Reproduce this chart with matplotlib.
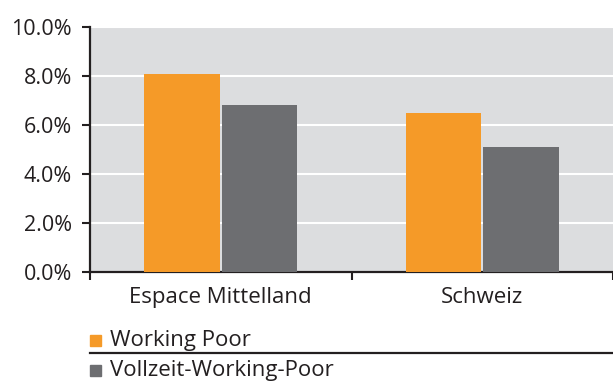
import matplotlib
matplotlib.use("Agg")
import matplotlib.pyplot as plt
from matplotlib.patches import Rectangle
from matplotlib.lines import Line2D
import numpy as np

categories = ["Espace Mittelland", "Schweiz"]
series_names = ["Working Poor", "Vollzeit-Working-Poor"]
working_poor = [8.1, 6.5]
vollzeit_wp = [6.8, 5.1]
yticks = [0, 2, 4, 6, 8, 10]
ytick_labels = ["0.0%", "2.0%", "4.0%", "6.0%", "8.0%", "10.0%"]

colors = ["#F59A28", "#6D6E71"]
dark = "#231F20"

plt.rcParams['font.family'] = ['Open Sans', 'DejaVu Sans']

W, H = 613, 381
fig = plt.figure(figsize=(W / 100, H / 100), dpi=100)
ax = fig.add_axes([90 / W, (H - 272) / H, 523 / W, 245 / H])
ax.set_facecolor("#DCDDDF")

x = np.arange(len(categories))
bw = 0.29
ax.bar(x - bw / 2 - 0.003, working_poor, width=bw, color=colors[0], zorder=3)
ax.bar(x + bw / 2 + 0.003, vollzeit_wp, width=bw, color=colors[1], zorder=3)

ax.set_xlim(-0.5, 1.5)
ax.set_ylim(0, 10)
ax.set_yticks(yticks)
ax.set_yticklabels(ytick_labels, fontsize=15.5, color=dark)
ax.yaxis.grid(True, color="white", linewidth=1.5, zorder=1)
ax.set_axisbelow(True)

ax.set_xticks([-0.5, 0.5, 1.5])
ax.set_xticklabels([])
ax.set_xticks(x, minor=True)
ax.set_xticklabels(categories, minor=True, fontsize=16, color=dark)
ax.tick_params(axis='x', which='minor', length=0, pad=11)
ax.tick_params(axis='x', which='major', length=6, width=1.5, color=dark, direction='out')
ax.tick_params(axis='y', length=6, width=1.5, color=dark, direction='out', pad=7)

for s in ["top", "right"]:
    ax.spines[s].set_visible(False)
for s in ["left", "bottom"]:
    ax.spines[s].set_color(dark)
    ax.spines[s].set_linewidth(1.6)

# legend drawn manually
def fx(px):
    return px / W
def fy(py):
    return (H - py) / H

baselines = [346, 376]
for name, col, yb in zip(series_names, colors, baselines):
    fig.patches.append(Rectangle((fx(90), fy(yb)), 11 / W, 11 / H,
                                 transform=fig.transFigure, color=col))
    fig.text(fx(110), fy(yb), name, fontsize=16, color=dark, va="baseline", ha="left")

fig.lines.append(Line2D([fx(90), fx(613)], [fy(353), fy(353)],
                        transform=fig.transFigure, color=dark, linewidth=1.6))

fig.savefig("out.png", dpi=100)
